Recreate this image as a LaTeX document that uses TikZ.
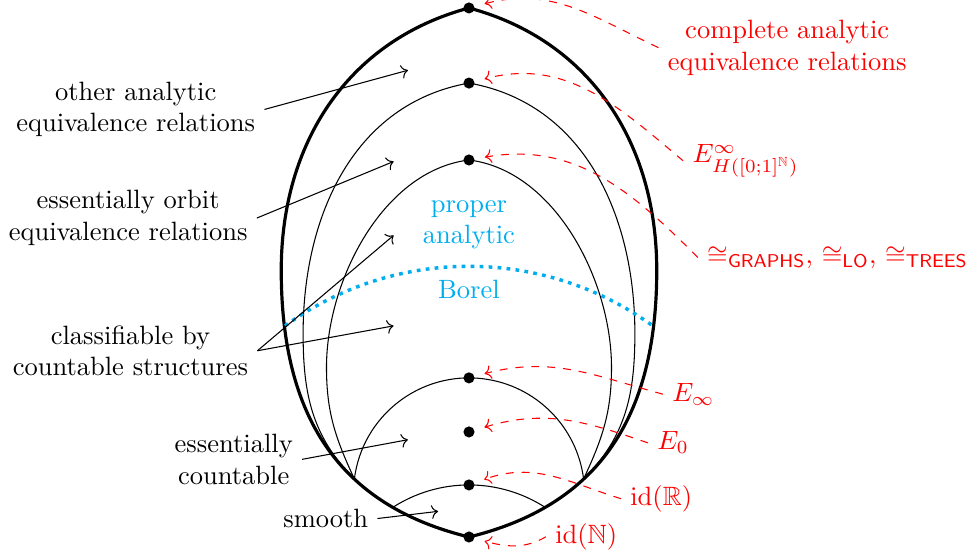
\documentclass[tikz,border=0pt]{standalone}
\usepackage{amssymb}
\usetikzlibrary{arrows.meta}
\definecolor{BorelBlue}{HTML}{00AEEF}

\begin{document}
\begin{tikzpicture}[
      lbl/.style={align=center},
      rlbl/.style={text=red,align=center},
      dot/.style={circle,fill,inner sep=0pt,minimum size=4.2pt,outer sep=4pt},
      pt/.style={-{To}},
      rpt/.style={-{To},red,dashed}]
    \useasboundingbox (-6.22,-0.265) rectangle (6.618,7.122);
    \draw[very thick] (0,0) .. controls (-1.85,0.45) and (-2.49,1.75) .. (-2.49,3.54)
      to[out=90,in=195] (0,7.016) to[out=-15,in=90] (2.49,3.54)
      .. controls (2.49,1.75) and (1.85,0.45) .. (0,0);
    \draw (-1.52,0.77) to[out=135,in=-90] (-2.20,2.70) to[out=90,in=190] (0,6.02)
      to[out=-10,in=90] (2.20,2.70) to[out=-90,in=45] (1.52,0.77);
    \draw (-1.52,0.77) to[out=115,in=-90] (-1.89,2.25)
      to[out=90,in=187,looseness=0.88] (0,5.0)
      to[out=-7,in=90,looseness=0.88] (1.89,2.25) to[out=-90,in=65] (1.52,0.77);
    \draw (-1.52,0.77) arc[start angle=172.8,end angle=7.2,radius=1.532];
    \draw (-1.01,0.393) arc[start angle=122.8,end angle=57.2,radius=1.865];
    \draw[BorelBlue,line width=1.3pt,dash pattern=on 1.4pt off 2pt]
      (-2.44,2.80) arc[start angle=125.9,end angle=54.1,radius=4.16];

    \node[dot] (ana)   at (0,7.016) {};
    \node[dot] (orb)   at (0,6.02)  {};
    \node[dot] (cnt)   at (0,5.0)   {};
    \node[dot] (einf)  at (0,2.11)  {};
    \node[dot] (ezero) at (0,1.393) {};
    \node[dot] (idr)   at (0,0.69)  {};
    \node[dot] (idn)   at (0,0)     {};

    \node[text=BorelBlue,align=center] (prop) at (0,4.14) {proper\\analytic};
    \node[text=BorelBlue] (bor) at (0,3.28) {Borel};

    \node[lbl] (oth)  at (-4.42,5.67) {other analytic\\equivalence relations};
    \node[lbl] (orbl) at (-4.52,4.23) {essentially orbit\\equivalence relations};
    \node[lbl] (cls)  at (-4.49,2.47) {classifiable by\\countable structures};
    \node[lbl] (ess)  at (-3.12,1.03) {essentially\\countable};
    \node[lbl] (smo)  at (-1.90,0.245) {smooth};
    \coordinate (othp) at (-0.81,6.19);
    \coordinate (orbp) at (-1.00,4.98);
    \coordinate (clsa) at (-1.00,4.00);
    \coordinate (clsb) at (-1.00,2.80);
    \coordinate (essp) at (-0.81,1.29);
    \coordinate (smop) at (-0.41,0.34);
    \draw[pt] (oth.east) -- (othp);
    \draw[pt] (orbl.east) -- (orbp);
    \draw[pt] (cls.east) -- (clsa);
    \draw[pt] (cls.east) -- (clsb);
    \draw[pt] (ess.east) -- (essp);
    \draw[pt] (smo.east) -- (smop);

    \node[rlbl] (canl) at (4.22,6.49) {complete analytic\\equivalence relations};
    \node[rlbl,anchor=base west] (hl)    at (2.84,4.96) {$E^\infty_{H([0;1]^\mathbb{N})}$};
    \node[rlbl,anchor=base west] (iso)   at (3.035,3.63)
      {$\cong_{\mathsf{GRAPHS}}$, $\cong_{\mathsf{LO}}$, $\cong_{\mathsf{TREES}}$};
    \node[rlbl,anchor=base west] (einfl) at (2.573,1.80) {$E_\infty$};
    \node[rlbl,anchor=base west] (ezl)   at (2.374,1.154) {$E_0$};
    \node[rlbl,anchor=base west] (idrl)  at (2.016,0.42) {$\mathrm{id}(\mathbb{R})$};
    \node[rlbl,anchor=base west] (idnl)  at (1.02,-0.085) {$\mathrm{id}(\mathbb{N})$};
    \draw[rpt] (canl.west) to[out=155,in=15] (ana);
    \draw[rpt] (hl.west) to[out=140,in=15] (orb);
    \draw[rpt] (iso.west) to[out=135,in=10] (cnt);
    \draw[rpt] (einfl.west) to[out=165,in=15] (einf);
    \draw[rpt] (ezl.west) to[out=161,in=17] (ezero);
    \draw[rpt] (idrl.west) to[out=163,in=20] (idr);
    \draw[rpt] (idnl.west) to[out=210,in=-15] (idn);
  \end{tikzpicture}
\end{document}
